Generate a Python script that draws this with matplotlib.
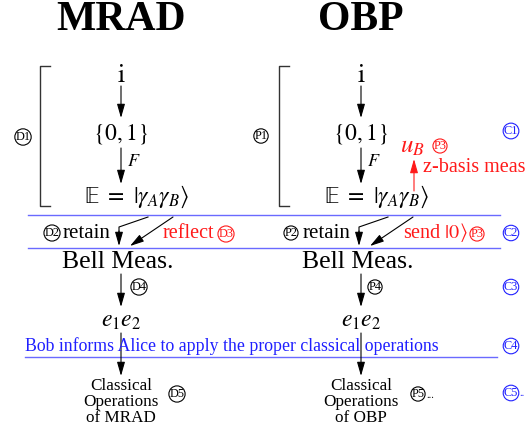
import matplotlib
matplotlib.use("Agg")
import matplotlib.pyplot as plt

plt.rcParams['font.family'] = ['Liberation Serif', 'DejaVu Serif']
plt.rcParams['mathtext.fontset'] = 'stix'

BLUE = '#2020ff'
LINEBLUE = '#6a6aff'
RED = '#ff1a1a'
BLACK = 'black'

titles = ['MRAD', 'OBP']
col_x = [121, 361]
top_labels = ['$\\mathrm{i}$', '$\\{0,1\\}$', '$\\mathrm{\\mathbb{E}}\\ =\\ |\\gamma_A\\gamma_B\\rangle$']
left_circ = ['D1', 'D2', 'D3', 'D4', 'D5']
right_circ = ['P1', 'P2', 'P3', 'P4', 'P5']
common_circ = ['C1', 'C2', 'C3', 'C4', 'C5']
middle_red = ['reflect', 'send $|0\\rangle$']
final_labels = ['Classical\nOperations\nof MRAD', 'Classical\nOperations\nof OBP']
bob_text = 'Bob informs Alice to apply the proper classical operations'

fig = plt.figure(figsize=(5.27, 4.32), dpi=100)
ax = fig.add_axes([0, 0, 1, 1])
ax.set_xlim(0, 527)
ax.set_ylim(432, 0)
ax.axis('off')


def arrow(x0, y0, x1, y1, color=BLACK):
    ax.annotate('', xy=(x1, y1), xytext=(x0, y0),
                arrowprops=dict(arrowstyle='-|>,head_length=0.7,head_width=0.2',
                                color=color, lw=0.8, shrinkA=0, shrinkB=0,
                                mutation_scale=12))


def circ(x, y, s, color=BLACK, extra=''):
    ax.text(x, y, s, fontsize=8.8, ha='center', va='center', color=color,
            bbox=dict(boxstyle='circle,pad=0.05', fc='none', ec=color, lw=0.8))
    if extra:
        ax.text(x + 8, y + 1, extra, fontsize=7.5, ha='left', va='center', color=color)


for k, (t, cx) in enumerate(zip(titles, col_x)):
    ax.text(cx, 20, t, fontsize=30, fontweight='bold', ha='center', va='center')
    # bracket
    bx = 40 if k == 0 else 279
    ax.plot([bx + 10, bx, bx, bx + 10], [66, 66, 206, 206], color='#333333', lw=1.0)
    ax.text(cx, 76, top_labels[0], fontsize=19, ha='center', va='center')
    arrow(cx, 86, cx, 118)
    ax.text(cx, 134, top_labels[1], fontsize=17, ha='center', va='center')
    arrow(cx, 148, cx, 184)
    ax.text(cx + 13, 162, '$F$', fontsize=13, ha='center', va='center')
    ax.text(cx + 16, 197, top_labels[2], fontsize=17, ha='center', va='center')
    # middle row arrows
    ax.plot([cx + 27, cx - 2, cx - 2], [217, 227, 232], color=BLACK, lw=0.8)
    arrow(cx - 2, 231, cx - 2, 246)
    arrow(cx + 52, 217, cx + 9, 246)
    ax.text(cx - 3, 262, 'Bell Meas.', fontsize=18.5, ha='center', va='center')
    arrow(cx, 274, cx, 307)
    ax.text(cx, 322, '$e_1e_2$', fontsize=17, ha='center', va='center')
    arrow(cx, 333, cx, 376)
    ax.text(cx, 402, final_labels[k], fontsize=12.3, ha='center', va='center',
            linespacing=0.98)

# left circled labels
circ(23, 137, left_circ[0])
circ(52, 233, left_circ[1])
ax.text(63, 233, 'retain', fontsize=15, ha='left', va='center')
ax.text(163, 233, middle_red[0], fontsize=14.5, ha='left', va='center', color=RED)
circ(226, 234, left_circ[2], RED)
circ(139, 287, left_circ[3])
circ(177, 394, left_circ[4])

# right circled labels
circ(261, 136, right_circ[0])
circ(291, 233, right_circ[1])
ax.text(303, 233, 'retain', fontsize=15, ha='left', va='center')
ax.text(403, 232, middle_red[1], fontsize=14.5, ha='left', va='center', color=RED)
circ(477, 234, right_circ[2], RED)
circ(375, 287, right_circ[3])
circ(418, 394, right_circ[4], extra='...')

# u_B and z-basis
ax.text(412, 147, '$u_B$', fontsize=18, ha='center', va='center', color=RED)
circ(440, 146, right_circ[2], RED)
arrow(414, 191, 414, 159, RED)
ax.text(423, 168, 'z-basis meas', fontsize=14.5, ha='left', va='center', color=RED)

# common circled labels
for (lab, y, extra) in zip(common_circ, [131, 233, 287, 346, 393], ['', '', '', '', '..']):
    circ(511, y, lab, BLUE, extra)

# blue lines
ax.plot([28, 500], [215, 215], color=LINEBLUE, lw=1.0)
ax.plot([28, 500], [248, 248], color=LINEBLUE, lw=1.0)
ax.text(25, 346, bob_text, fontsize=12.8, ha='left', va='center', color=BLUE)
ax.plot([25, 497], [357, 357], color=LINEBLUE, lw=1.0)

fig.savefig('out.png', dpi=100)
